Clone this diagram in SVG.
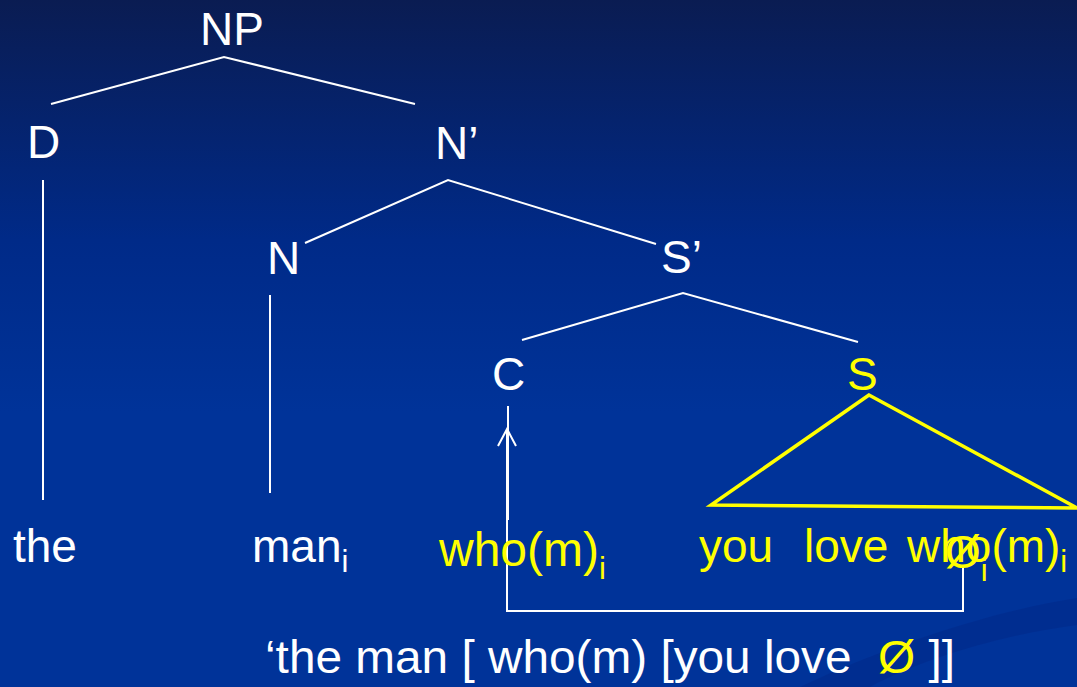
<svg xmlns="http://www.w3.org/2000/svg" width="1077" height="687" viewBox="0 0 1077 687">
<defs>
<linearGradient id="bg" x1="0" y1="0" x2="0" y2="1">
<stop offset="0" stop-color="#0a1c52"/>
<stop offset="0.35" stop-color="#002a88"/>
<stop offset="0.6" stop-color="#003399"/>
<stop offset="1" stop-color="#003399"/>
</linearGradient>
<marker id="ah" viewBox="0 0 20 20" refX="18" refY="10" markerWidth="20" markerHeight="20" markerUnits="userSpaceOnUse" orient="auto">
<path d="M1,1 L18,10 L1,19" fill="none" stroke="#ffffff" stroke-width="2"/>
</marker>
<style>
.t{font-family:"Liberation Sans",Arial,sans-serif;font-size:46px;fill:#ffffff}
.y{fill:#ffff00}
.e{stroke:#ffffff;stroke-width:2;fill:none}
.ye{stroke:#ffff00;stroke-width:3.5;fill:none}
.sub{font-size:31px}
</style>
</defs>
<rect width="1077" height="687" fill="url(#bg)"/>
<path d="M800,687 C900,640 1000,610 1077,598 L1077,625 C1000,635 920,660 870,687 Z" fill="#002a8a" opacity="0.6"/>

<g id="connectors">
<path class="e" d="M51,104 L224,57 L415,104"/>
<path class="e" d="M305,243 L448,180 L656,244"/>
<path class="e" d="M522,340 L683,293 L858,342"/>
<path class="e" d="M43,180 L43,500"/>
<path class="e" d="M270,295 L270,493"/>
<path class="e" d="M508,406 L508,520"/>
<path class="e" d="M963,566 L963,611 L507,611 L507,429" marker-end="url(#ah)"/>
<path class="ye" d="M869,395 L711,505 L1077,508 Z" stroke-linejoin="miter"/>
</g>

<g id="NP"><text class="t" x="232" y="45" text-anchor="middle">NP</text></g>
<g id="D"><text class="t" x="27" y="158">D</text></g>
<g id="Nbar"><text class="t" x="435" y="159">N’</text></g>
<g id="N"><text class="t" x="267" y="274">N</text></g>
<g id="Sbar"><text class="t" x="661" y="273">S’</text></g>
<g id="C"><text class="t" x="492" y="390">C</text></g>
<g id="S"><text class="t y" x="847" y="390">S</text></g>
<g id="the"><text class="t" x="13" y="562">the</text></g>
<g id="man"><text class="t" x="252" y="562">man<tspan class="sub" dy="10">i</tspan></text></g>
<g id="whom"><text class="t y" x="439" y="566" style="font-size:48px">who(m)<tspan class="sub" dy="13">i</tspan></text></g>
<g id="S-yield">
<text class="t y" x="699" y="562">you</text>
<text class="t y" x="804" y="562">love</text>
<text class="t y" x="907" y="562">who(m)<tspan class="sub" dy="10">i</tspan></text>
<text class="t y" x="945" y="568">Ø<tspan class="sub" dy="13">i</tspan></text>
</g>
<g id="gloss"><text class="t" x="265" y="673" textLength="690" lengthAdjust="spacingAndGlyphs">‘the man [ who(m) [you love &#160;<tspan class="y">Ø</tspan> ]]</text></g>
</svg>
